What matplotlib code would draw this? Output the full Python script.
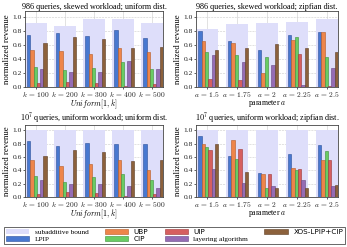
import matplotlib
matplotlib.use("Agg")
import matplotlib.pyplot as plt
from matplotlib.patches import Patch
import numpy as np

plt.rcParams['font.family'] = ['Liberation Serif', 'DejaVu Serif']
plt.rcParams['mathtext.fontset'] = 'cm'

series_names = ["LPIP", "UBP", "CIP", "UIP", "layering algorithm", "XOS-LPIP+CIP"]
colors = ["#4878d0", "#ee854a", "#6acc64", "#d65f5f", "#956cb4", "#8c613c"]
edgecols = ["#2a4f9a", "#b55a24", "#3c8f38", "#9c3434", "#664683", "#5c3d22"]
bound_color = "#dedefa"

k_labels = [r"$k\,=\,100$", r"$k\,=\,200$", r"$k\,=\,300$", r"$k\,=\,400$", r"$k\,=\,500$"]
a_labels = [r"$a\,=\,1.5$", r"$a\,=\,1.75$", r"$a\,=\,2$", r"$a\,=\,2.25$", r"$a\,=\,2.5$"]

# panel 1: 986 queries, skewed workload; uniform dist.
p1_bound = [0.91, 0.86, 0.96, 0.97, 0.91]
p1_lpip = [0.74, 0.77, 0.72, 0.81, 0.70]
p1_ubp = [0.52, 0.51, 0.47, 0.56, 0.50]
p1_cip = [0.29, 0.24, 0.27, 0.36, 0.26]
p1_uip = [0.06, 0.07, 0.06, 0.02, 0.04]
p1_layer = [0.25, 0.21, 0.22, 0.37, 0.25]
p1_xos = [0.63, 0.71, 0.68, 0.55, 0.57]

# panel 2: 986 queries, skewed workload; zipfian dist.
p2_bound = [0.82, 0.90, 0.91, 0.93, 0.96]
p2_lpip = [0.79, 0.65, 0.53, 0.74, 0.78]
p2_ubp = [0.66, 0.62, 0.20, 0.67, 0.78]
p2_cip = [0.50, 0.46, 0.43, 0.71, 0.43]
p2_uip = [0.11, 0.10, 0.005, 0.47, 0.02]
p2_layer = [0.46, 0.36, 0.31, 0.03, 0.27]
p2_xos = [0.53, 0.55, 0.61, 0.55, 0.50]

# panel 3: 10^7 queries, uniform workload; uniform dist.
p3_bound = [1.0, 1.0, 1.0, 1.0, 1.0]
p3_lpip = [0.84, 0.76, 0.81, 0.80, 0.80]
p3_ubp = [0.56, 0.46, 0.50, 0.56, 0.41]
p3_cip = [0.31, 0.23, 0.30, 0.34, 0.26]
p3_uip = [0.05, 0.07, 0.06, 0.02, 0.04]
p3_layer = [0.25, 0.19, 0.19, 0.16, 0.14]
p3_xos = [0.62, 0.70, 0.67, 0.54, 0.56]

# panel 4: 10^7 queries, uniform workload; zipfian dist.
p4_bound = [1.0, 1.0, 1.0, 1.0, 1.0]
p4_lpip = [0.92, 0.62, 0.36, 0.65, 0.78]
p4_ubp = [0.80, 0.86, 0.34, 0.44, 0.55]
p4_cip = [0.75, 0.57, 0.13, 0.40, 0.69]
p4_uip = [0.71, 0.72, 0.34, 0.42, 0.55]
p4_layer = [0.42, 0.21, 0.16, 0.26, 0.16]
p4_xos = [0.80, 0.37, 0.13, 0.14, 0.18]

panels = [
    ("986 queries, skewed workload; uniform dist.", k_labels, r"$Uniform[1,k]$",
     p1_bound, [p1_lpip, p1_ubp, p1_cip, p1_uip, p1_layer, p1_xos]),
    ("986 queries, skewed workload; zipfian dist.", a_labels, r"parameter $a$",
     p2_bound, [p2_lpip, p2_ubp, p2_cip, p2_uip, p2_layer, p2_xos]),
    (r"$10^7$ queries, uniform workload; uniform dist.", k_labels, r"$Uniform[1,k]$",
     p3_bound, [p3_lpip, p3_ubp, p3_cip, p3_uip, p3_layer, p3_xos]),
    (r"$10^7$ queries, uniform workload; zipfian dist.", a_labels, r"parameter $a$",
     p4_bound, [p4_lpip, p4_ubp, p4_cip, p4_uip, p4_layer, p4_xos]),
]

W, H = 347, 247
fig = plt.figure(figsize=(W / 100, H / 100), dpi=100)
rects = [
    (25, 11, 163, 87),
    (196, 11, 338, 87),
    (25, 125, 163, 197),
    (196, 125, 338, 197),
]

bw = 0.112
bound_w = 0.75
fs = 5.4
for (title, xt, xl, bound, vals), (x0, y0, x1, y1) in zip(panels, rects):
    ax = fig.add_axes([x0 / W, 1 - y1 / H, (x1 - x0) / W, (y1 - y0) / H])
    x = np.arange(5)
    ax.bar(x, bound, width=bound_w, color=bound_color, zorder=1, linewidth=0)
    for i, v in enumerate(vals):
        ax.bar(x - 0.3 + bw * 0.5 + i * bw, v, width=bw, color=colors[i],
               edgecolor=edgecols[i], linewidth=0.4, zorder=3)
    ax.set_xlim(-0.375, 4.375)
    ax.set_ylim(0, 1.08)
    ax.set_yticks([0, 0.2, 0.4, 0.6, 0.8, 1.0])
    ax.set_yticklabels(["0.0", "0.2", "0.4", "0.6", "0.8", "1.0"])
    ax.set_xticks(x)
    ax.set_xticklabels(xt)
    ax.grid(True, color="#cccccc", linestyle="--", linewidth=0.4, zorder=0)
    ax.xaxis.grid(True, color="#cccccc", linestyle="-", linewidth=0.4)
    ax.set_axisbelow(True)
    ax.tick_params(labelsize=fs, length=1.5, width=0.5, pad=0.8, colors="#222222")
    ax.tick_params(axis="x", pad=0.5)
    for s in ax.spines.values():
        s.set_linewidth(0.6)
        s.set_color("#444444")
    ax.set_title(title, fontsize=5.9, pad=1.0)
    ax.set_ylabel("normalized revenue", fontsize=6.3, labelpad=1)
    ax.set_xlabel(xl, fontsize=5.6, labelpad=-0.5)

handles = [Patch(facecolor=bound_color, label="subadditive bound")]
handles += [Patch(facecolor=c, edgecolor=e, linewidth=0.4, label=n)
            for c, e, n in zip(colors, edgecols, series_names)]
leg = fig.legend(handles=handles, loc="lower left",
                 bbox_to_anchor=(4 / W, 3 / H, 341 / W, 20 / H), mode="expand",
                 ncol=4, fontsize=5.2, frameon=True, fancybox=False,
                 handlelength=3.2, handleheight=0.6, borderpad=0.25,
                 labelspacing=0.15, columnspacing=1.0, handletextpad=0.8,
                 borderaxespad=0)
leg.get_frame().set_edgecolor("#222222")
leg.get_frame().set_linewidth(0.6)
for t in leg.get_texts():
    if t.get_text() in ("UBP", "CIP", "UIP", "XOS-LPIP+CIP"):
        t.set_family("DejaVu Sans")

fig.savefig("out.png", dpi=100)
